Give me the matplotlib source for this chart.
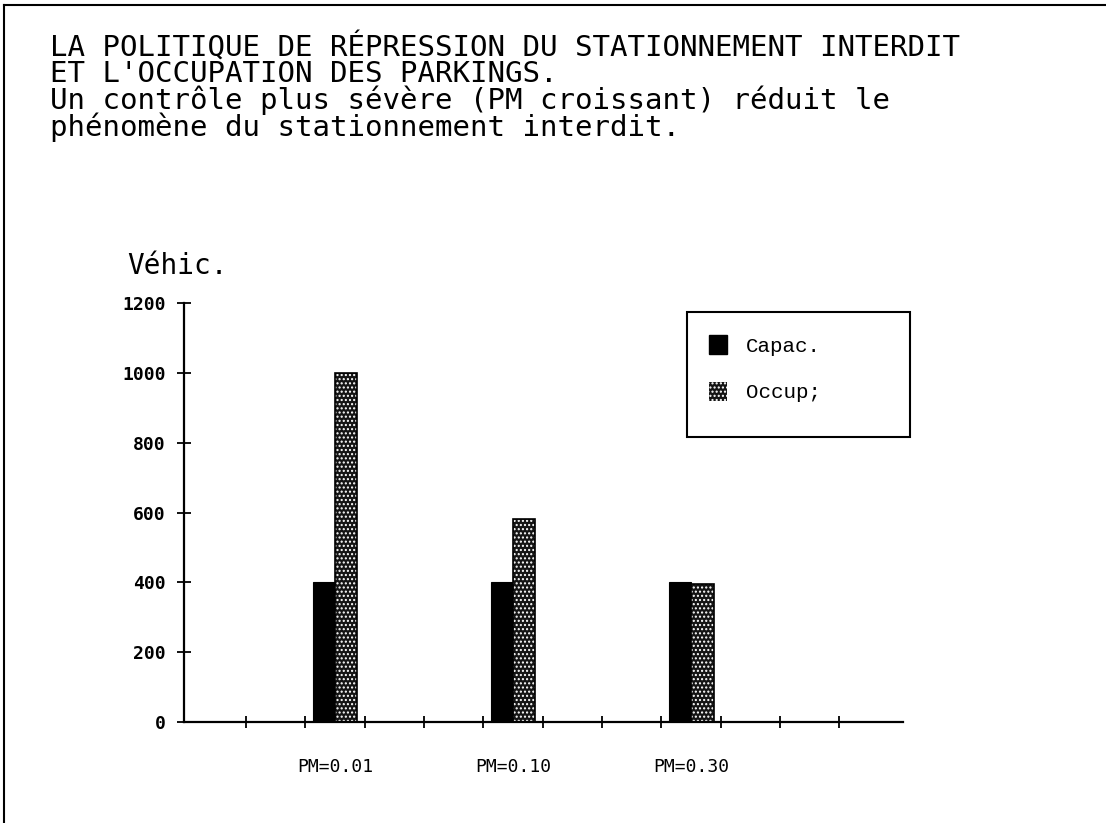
import matplotlib
matplotlib.use("Agg")
import matplotlib.pyplot as plt
from matplotlib.patches import Patch, Rectangle
from matplotlib.lines import Line2D
import numpy as np

# ---- data ----
categories = ["PM=0.01", "PM=0.10", "PM=0.30"]
capac = [400, 400, 400]
occup = [1000, 580, 395]
series_labels = ["Capac.", "Occup;"]
yticks = [0, 200, 400, 600, 800, 1000, 1200]

title_lines = ("LA POLITIQUE DE RÉPRESSION DU STATIONNEMENT INTERDIT\n"
               "ET L'OCCUPATION DES PARKINGS.\n"
               "Un contrôle plus sévère (PM croissant) réduit le\n"
               "phénomène du stationnement interdit.")
ylabel = "Véhic."

MONO = "DejaVu Sans Mono"

fig = plt.figure(figsize=(11.06, 8.23), dpi=100)
ax = fig.add_axes([184/1106, 1-722/823, (903-184)/1106, (722-303)/823])

x = np.arange(len(categories))
w = 0.126
ax.bar(x - w/2, capac, width=w, color="black", edgecolor="black", linewidth=0.8)
ax.bar(x + w/2, occup, width=w, facecolor="#141414", edgecolor="white",
       hatch="....", linewidth=0)
ax.bar(x + w/2, occup, width=w, fill=False, edgecolor="black", linewidth=1.2)

ax.set_xlim(-0.848, 3.19)
ax.set_ylim(0, 1200)
for s in ["top", "right"]:
    ax.spines[s].set_visible(False)
for s in ["left", "bottom"]:
    ax.spines[s].set_linewidth(1.6)
    ax.spines[s].set_color("black")

ax.set_yticks(yticks)
ax.set_yticklabels([str(v) for v in yticks], family=MONO, fontsize=13,
                   fontweight="bold")
ax.tick_params(axis="y", direction="inout", length=10, width=1.3, pad=8)

ax.set_xticks(x)
ax.set_xticklabels(categories, family=MONO, fontsize=13)
ax.tick_params(axis="x", which="major", length=0, pad=26)
ax.set_xticks(np.arange(-0.5, 3.0, 1/3), minor=True)
ax.tick_params(axis="x", which="minor", direction="inout", length=9, width=1.3)

fig.text(127/1106, 1-266/823, ylabel, family=MONO, fontsize=20,
         ha="left", va="center")

fig.text(50/1106, 1-32/823, title_lines, family=MONO, fontsize=21,
         ha="left", va="top", linespacing=0.9)

# legend frame
fig.add_artist(Rectangle((687/1106, 1-437/823), (910-687)/1106, (437-312)/823,
                         transform=fig.transFigure, fill=False,
                         edgecolor="black", linewidth=1.5))
handles = [Patch(facecolor="black", edgecolor="black"),
           Patch(facecolor="#141414", edgecolor="white", hatch="....", linewidth=0)]
fig.legend(handles, series_labels, loc="upper left",
           bbox_to_anchor=(690/1106, 1-316/823), frameon=False,
           prop={"family": "Liberation Mono", "size": 15},
           handlelength=0.87, handleheight=1.05, handletextpad=0.9,
           labelspacing=1.25)

# page border lines (top and left)
fig.add_artist(Line2D([0.004, 1.0], [0.994, 0.994], transform=fig.transFigure,
                      color="black", linewidth=1.5))
fig.add_artist(Line2D([0.004, 0.004], [0.0, 0.994], transform=fig.transFigure,
                      color="black", linewidth=1.5))

fig.savefig("out.png", dpi=100)
